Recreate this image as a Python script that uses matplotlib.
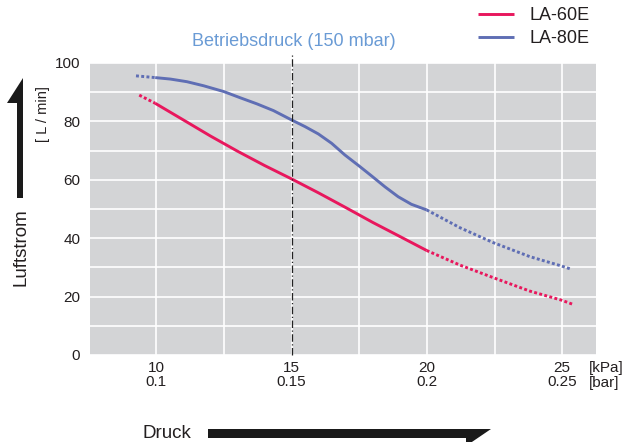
import matplotlib
matplotlib.use("Agg")
import matplotlib.pyplot as plt
from matplotlib.patches import Polygon
from matplotlib.ticker import MultipleLocator

plt.rcParams['font.family'] = ['Liberation Sans', 'DejaVu Sans']

# ---- data ----
la60_label = "LA-60E"
la80_label = "LA-80E"

la60_dot_left_x = [9.37, 9.96]
la60_dot_left_y = [89.0, 86.2]
la60_solid_x = [9.96, 11.0, 12.0, 13.0, 14.0, 15.0, 16.0, 17.0, 18.0, 19.0, 19.99]
la60_solid_y = [86.2, 80.5, 75.0, 69.8, 64.9, 60.3, 55.5, 50.5, 45.4, 40.6, 35.8]
la60_dot_right_x = [19.99, 21.22, 22.45, 23.80, 24.97, 25.38]
la60_dot_right_y = [35.8, 30.8, 26.5, 21.9, 18.8, 17.4]

la80_dot_left_x = [9.25, 9.96]
la80_dot_left_y = [95.6, 95.0]
la80_solid_x = [9.96, 10.52, 11.13, 11.75, 12.5, 13.10, 13.72, 14.33, 15.0, 15.5, 15.99,
                16.48, 16.97, 17.5, 17.96, 18.45, 18.94, 19.43, 19.99]
la80_solid_y = [95.0, 94.5, 93.6, 92.2, 90.2, 88.1, 86.0, 83.7, 80.5, 78.2, 75.7,
                72.5, 68.5, 64.7, 61.3, 57.6, 54.2, 51.6, 49.7]
la80_dot_right_x = [19.99, 21.22, 22.45, 23.80, 24.97, 25.36]
la80_dot_right_y = [49.7, 43.6, 38.5, 33.7, 30.5, 29.3]

x_ticks = [10, 15, 20, 25]
x_tick_labels = ["10\n0.1", "15\n0.15", "20\n0.2", "25\n0.25"]
y_ticks = [0, 20, 40, 60, 80, 100]
operating_pressure = 15
operating_label = "Betriebsdruck (150 mbar)"
unit_label = "[kPa]\n[bar]"
y_unit = "[ L / min]"
y_name = "Luftstrom"
x_name = "Druck"

RED = "#e8175d"
BLUE = "#5f6eb4"
TXT = "#231f20"

W, H = 625, 442
fig = plt.figure(figsize=(W / 100, H / 100), dpi=100)

def fx(px):
    return px / W

def fy(py):
    return 1 - py / H

ax = fig.add_axes([fx(90), fy(355), fx(596) - fx(90), fy(63) - fy(355)])
ax.set_facecolor("#d3d4d6")
ax.set_xlim(7.55, 26.25)
ax.set_ylim(0, 100)
for s in ax.spines.values():
    s.set_visible(False)

ax.set_xticks(x_ticks)
ax.set_xticklabels(x_tick_labels, linespacing=1.05)
ax.xaxis.set_minor_locator(MultipleLocator(2.5))
ax.set_yticks(y_ticks)
ax.yaxis.set_minor_locator(MultipleLocator(10))
ax.tick_params(which="both", length=0)
ax.tick_params(axis="x", pad=4, labelsize=11, labelcolor=TXT)
ax.tick_params(axis="y", pad=7, labelsize=11, labelcolor=TXT)
ax.grid(which="both", color="white", lw=1.2)
ax.set_axisbelow(True)

dot = (0, (1, 0.8))
lw = 2.1
kw = dict(lw=lw, solid_capstyle="butt", solid_joinstyle="round")
l60, = ax.plot(la60_solid_x, la60_solid_y, color=RED, label=la60_label, **kw)
ax.plot(la60_dot_left_x, la60_dot_left_y, color=RED, lw=lw, ls=dot)
ax.plot(la60_dot_right_x, la60_dot_right_y, color=RED, lw=lw, ls=dot)
l80, = ax.plot(la80_solid_x, la80_solid_y, color=BLUE, label=la80_label, **kw)
ax.plot(la80_dot_left_x, la80_dot_left_y, color=BLUE, lw=lw, ls=dot)
ax.plot(la80_dot_right_x, la80_dot_right_y, color=BLUE, lw=lw, ls=dot)

ax.plot([operating_pressure, operating_pressure], [0, 103.5], color="#222222", lw=0.9,
        ls=(0, (6, 2, 1, 2)), clip_on=False, zorder=3)
ax.text(operating_pressure + 0.1, 107.5, operating_label, color="#6a9bd5", fontsize=13,
        ha="center", va="center")

fig.legend(handles=[l60, l80], loc="upper left", bbox_to_anchor=(fx(478), fy(7)),
           frameon=False, fontsize=13, handlelength=2.0, handletextpad=0.85,
           labelspacing=0.35, borderpad=0, borderaxespad=0, labelcolor=TXT)

fig.text(fx(589), fy(361), unit_label, ha="left", va="top", fontsize=11,
         color=TXT, linespacing=1.05)

fig.text(fx(21), fy(247), y_name, rotation=90, ha="center", va="center", fontsize=13.5, color=TXT)
fig.text(fx(43), fy(114), y_unit, rotation=90, ha="center", va="center", fontsize=10.5, color=TXT)
fig.text(fx(143), fy(433), x_name, ha="left", va="center", fontsize=13.5, color=TXT)

def pix_poly(pts):
    return Polygon([(fx(x), fy(y)) for x, y in pts], closed=True, transform=fig.transFigure,
                   facecolor="#1a1a1a", edgecolor="none")

fig.add_artist(pix_poly([(23, 78), (23, 198), (17, 198), (17, 103), (7, 103)]))
fig.add_artist(pix_poly([(208, 429), (491, 429), (466, 446), (466, 438), (208, 438)]))

fig.savefig("out.png", dpi=100)
